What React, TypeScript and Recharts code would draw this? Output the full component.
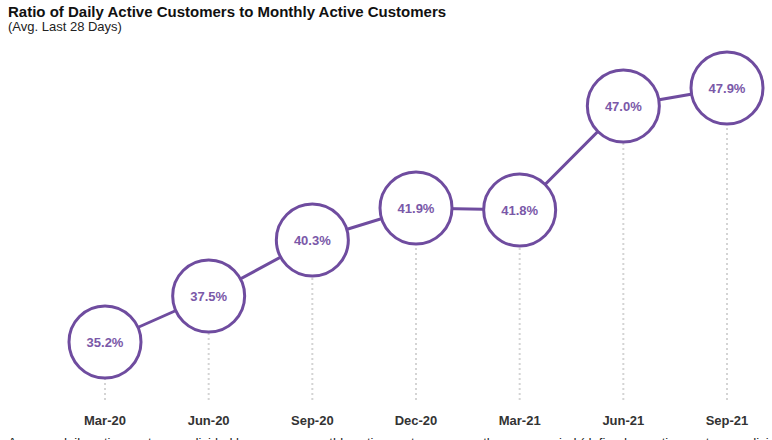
import React from 'react';
import { LineChart, Line, XAxis, YAxis, ReferenceLine, LabelList } from 'recharts';

const months = ['Mar-20', 'Jun-20', 'Sep-20', 'Dec-20', 'Mar-21', 'Jun-21', 'Sep-21'];
const ratios = [35.2, 37.5, 40.3, 41.9, 41.8, 47.0, 47.9];

const yDomain: [number, number] = [32.3, 49.8];

const data = months.map((month, i) => ({ month, ratio: ratios[i] }));

const PURPLE = '#6f4c9f';
const LABEL = '#7a58a8';
const FONT = '"Liberation Sans", Arial, sans-serif';

const BubbleDot = (props: any) => {
  const { cx, cy } = props;
  if (cx == null || cy == null) return null;
  return <circle cx={cx} cy={cy} r={36} fill="#fff" stroke={PURPLE} strokeWidth={3} />;
};

export default function App() {
  return (
    <div
      style={{
        position: 'absolute',
        left: 0,
        top: 0,
        width: 772,
        height: 440,
        overflow: 'hidden',
        fontFamily: FONT,
        background: '#fff',
      }}
    >
      <div style={{ position: 'absolute', left: 8, top: 3, fontSize: 15, fontWeight: 'bold', color: '#111', lineHeight: '17px' }}>
        Ratio of Daily Active Customers to Monthly Active Customers
      </div>
      <div style={{ position: 'absolute', left: 8, top: 19, fontSize: 13, color: '#222', lineHeight: '15px' }}>
        (Avg. Last 28 Days)
      </div>
      <LineChart width={772} height={440} data={data} margin={{ top: 50, right: 0, bottom: 10, left: 0 }}>
        <XAxis
          dataKey="month"
          padding={{ left: 105, right: 45 }}
          axisLine={false}
          tickLine={false}
          tickMargin={10}
          interval={0}
          tick={{ fill: '#333', fontSize: 13, fontWeight: 'bold', fontFamily: FONT }}
        />
        <YAxis hide domain={yDomain} />
        {data.map((d) => (
          <ReferenceLine
            key={d.month}
            segment={[
              { x: d.month, y: yDomain[0] },
              { x: d.month, y: d.ratio },
            ]}
            stroke="#d4d4d4"
            strokeWidth={2}
            strokeDasharray="2 3"
          />
        ))}
        <Line
          dataKey="ratio"
          stroke={PURPLE}
          strokeWidth={3}
          dot={<BubbleDot />}
          activeDot={false}
          isAnimationActive={false}
        >
          <LabelList
            dataKey="ratio"
            position="center"
            formatter={(v: any) => `${Number(v).toFixed(1)}%`}
            fill={LABEL}
            fontSize={13}
            fontWeight="bold"
            fontFamily={FONT}
          />
        </Line>
      </LineChart>
      <div style={{ position: 'absolute', left: 8, top: 435, fontSize: 13, color: '#222', whiteSpace: 'nowrap', lineHeight: '15px' }}>
        Average daily active customers divided by average monthly active customers over the same period (defined as active customers divided by total users)
      </div>
    </div>
  );
}
